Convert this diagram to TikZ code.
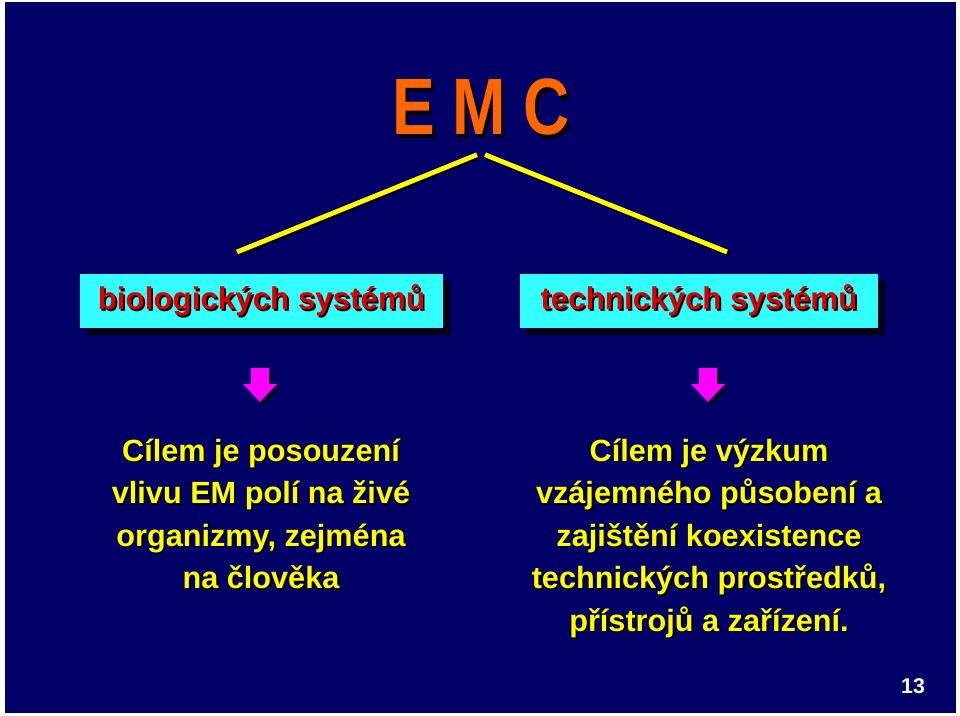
\documentclass[tikz,border=0pt]{standalone}
\usepackage{fontspec}
\setmainfont{Liberation Sans}
\usetikzlibrary{shadows}
\definecolor{emcnavy}{RGB}{0,0,102}
\definecolor{emccyan}{RGB}{51,255,255}
\definecolor{emcred}{RGB}{221,0,0}
\definecolor{emcyellow}{RGB}{255,255,0}
\definecolor{emcorange}{RGB}{255,102,0}
\definecolor{emcmagenta}{RGB}{255,0,255}
\definecolor{emcshade}{RGB}{0,0,20}
\newcommand{\shtxt}[2][1.3pt]{\makebox[0pt][l]{\kern#1\raisebox{-#1}{\textcolor{black}{#2}}}#2}
\tikzset{
  titletext/.style={text=emcorange, font=\fontsize{60}{60}\selectfont\bfseries, xscale=0.8, inner sep=11pt, anchor=base},
  sysbox/.style={fill=emccyan, minimum height=40.5pt, inner sep=0pt, text=emcred, font=\fontsize{23.5}{28}\selectfont\bfseries, general shadow={fill=emcshade, shadow xshift=5pt, shadow yshift=-5pt}},
  bodytext/.style={text=emcyellow, font=\fontsize{23}{30}\selectfont\bfseries, anchor=base, inner sep=0pt},
  yline/.style={draw=emcyellow, line width=3.6pt, preaction={draw=emcshade, line width=3.6pt, transform canvas={shift={(1.6pt,-1.6pt)}}}},
  pagenum/.style={text=white, font=\fontsize{16}{18}\selectfont\bfseries}
}
\begin{document}
\begin{tikzpicture}[x=0.75pt, y=-0.75pt]
  \fill[white] (0,0) rectangle (960,716);
  \fill[emcnavy] (5,2) rectangle (956,713);
  \node[titletext] (emc) at (481,135) {\shtxt[3pt]{E M C}};
  \node[sysbox, minimum width=272pt] (bio) at (261.5,301) {\shtxt{biologických systémů}};
  \node[sysbox, minimum width=268.5pt] (tech) at (699,301) {\shtxt{technických systémů}};
  \coordinate (bioend) at (237,252);
  \coordinate (techend) at (727,252);
  \draw[yline] ([xshift=-3pt]emc.south) -- (bioend);
  \draw[yline] ([xshift=3pt]emc.south) -- (techend);
  \foreach \ax in {260,708} {
    \fill[emcshade] ({\ax-6},371) -- ({\ax+12},371) -- ({\ax+12},387) -- ({\ax+20},387) -- ({\ax+3},405) -- ({\ax-14},387) -- ({\ax-6},387) -- cycle;
    \fill[emcmagenta] ({\ax-9},368) -- ({\ax+9},368) -- ({\ax+9},384) -- ({\ax+17},384) -- (\ax,402) -- ({\ax-17},384) -- ({\ax-9},384) -- cycle;
  }
  \foreach \ln [count=\i] in {Cílem je posouzení, vlivu EM polí na živé, {organizmy, zejména}, na člověka}
    \node[bodytext] (bio-\i) at (261,{418.5+42.5*\i}) {\shtxt{\ln}};
  \foreach \ln [count=\i] in {Cílem je výzkum, vzájemného působení a, zajištění koexistence, {technických prostředků,}, přístrojů a zařízení.}
    \node[bodytext] (tech-\i) at (709,{418.5+42.5*\i}) {\shtxt{\ln}};
  \node[pagenum] (num) at (913,686) {13};
\end{tikzpicture}
\end{document}
